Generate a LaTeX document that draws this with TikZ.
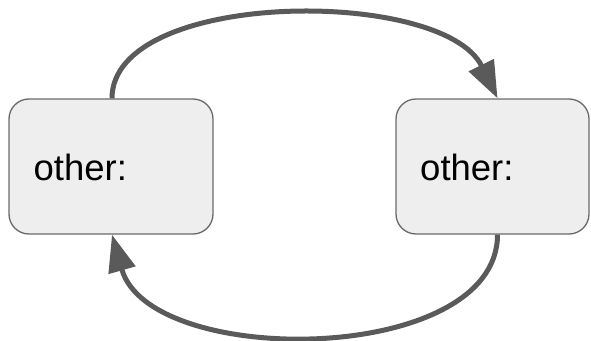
\documentclass[tikz,border=0pt]{standalone}
\usepackage{fontspec}
\setmainfont{Liberation Sans}
\usetikzlibrary{arrows.meta}
\definecolor{boxfill}{HTML}{EEEEEE}
\definecolor{boxline}{HTML}{6A6A6A}
\definecolor{linkgray}{HTML}{5A5A5A}
\begin{document}
\begin{tikzpicture}[x=1pt,y=-1pt,
  statebox/.style={draw=boxline, line width=1.3pt, fill=boxfill,
    rounded corners=20pt, minimum height=135pt, inner sep=0pt},
  statelabel/.style={anchor=base west, inner sep=0pt,
    font=\fontsize{36.5}{44}\selectfont},
  link/.style={draw=linkgray, line width=5pt,
    -{Triangle[length=37pt,width=27pt]}}]
\useasboundingbox (0,0) rectangle (591,340);

% the two states
\node[statebox, minimum width=204pt] (left) at (111,166.5) {};
\node[statebox, minimum width=193pt] (right) at (492.5,166.5) {};
\node[statelabel] (leftlabel) at (33.5,180) {other:};
\node[statelabel] (rightlabel) at (420,180) {other:};

% transitions between them
\draw[link] ([xshift=1pt]left.north) .. controls (112,-11) and (443,-13) .. ([xshift=5pt]right.north);
\draw[link] ([xshift=5pt]right.south) .. controls (497.5,366) and (150,369) .. ([xshift=1pt]left.south);
\end{tikzpicture}
\end{document}
